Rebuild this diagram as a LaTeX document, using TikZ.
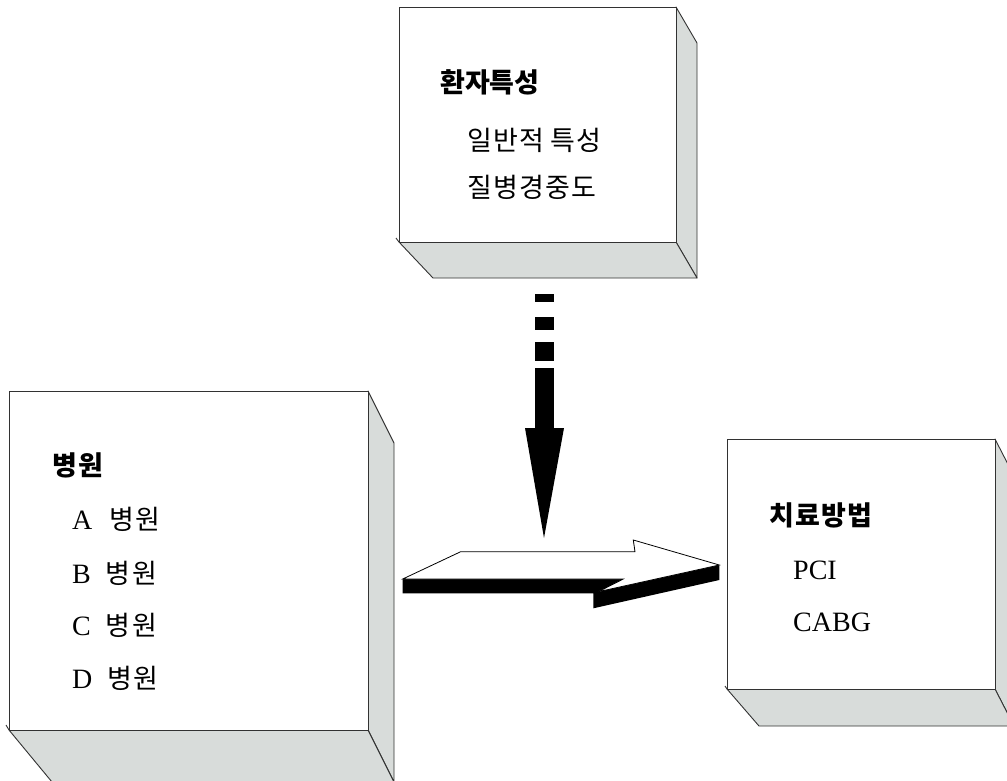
\documentclass[tikz,border=0pt]{standalone}
\usepackage{fontspec}
\setmainfont{Liberation Serif}
\newfontfamily\kr{Noto Sans CJK KR}
\newfontfamily\krsp[LetterSpace=5]{Noto Sans CJK KR}
\definecolor{sidegray}{RGB}{216,220,218}
\definecolor{edgegray}{RGB}{50,50,50}
\tikzset{
  face/.style={draw=edgegray, line width=0.9pt, line join=round},
  front/.style={face, fill=white},
  side/.style={face, fill=sidegray},
  head/.style={anchor=west, inner sep=0pt, font=\fontsize{27}{30}\selectfont\kr\bfseries},
  headsp/.style={anchor=west, inner sep=0pt, font=\fontsize{27}{30}\selectfont\krsp\bfseries},
  item/.style={anchor=west, inner sep=0pt, font=\fontsize{28}{30}\selectfont},
  blk/.style={fill=black, draw=none}
}
\newcommand{\krt}[1]{{\fontsize{27}{30}\selectfont\krsp #1}}
\begin{document}
\begin{tikzpicture}[x=1pt,y=-1pt]
\useasboundingbox (0,0) rectangle (1007,780);
% top box
\draw[side] (676,7) -- (697,43) -- (697,278) -- (676,242) -- cycle;
\draw[side] (399,242) -- (433,278) -- (697,278) -- (676,242) -- cycle;
\draw[face] (396,238) -- (399,242);
\draw[front] (399,7) rectangle (676,242);
\node[head] (pt) at (440,82) {환자특성};
\node[item] (pt1) at (467,140) {\krt{일반적\hspace{6pt}특성}};
\node[item] (pt2) at (467,187) {\krt{질병경중도}};
% left box
\draw[side] (368,391) -- (394,443) -- (394,782) -- (368,730) -- cycle;
\draw[side] (9,730) -- (52,782) -- (394,782) -- (368,730) -- cycle;
\draw[face] (6,725) -- (9,730);
\draw[front] (9,391) rectangle (368,730);
\node[headsp] (hp) at (52,465) {병원};
\node[item] (ha) at (72,519) {A\hspace{17pt}\krt{병원}};
\node[item] (hb) at (72,573) {B\hspace{15pt}\krt{병원}};
\node[item] (hc) at (72,625) {C\hspace{15pt}\krt{병원}};
\node[item] (hd) at (72,678) {D\hspace{15pt}\krt{병원}};
% right box
\draw[side] (995,439) -- (1014,476) -- (1014,726) -- (995,689) -- cycle;
\draw[side] (727,689) -- (759,726) -- (1014,726) -- (995,689) -- cycle;
\draw[face] (725,686) -- (727,689);
\draw[front] (727,439) rectangle (995,689);
\node[headsp] (tm) at (769,515) {치료방법};
\node[item] (t1) at (793,570) {PCI};
\node[item] (t2) at (793,622) {CABG};
% vertical dashed block arrow
\fill[blk] (535,294) rectangle (554,302);
\fill[blk] (535,317) rectangle (554,330);
\fill[blk] (535,342) rectangle (554,361);
\fill[blk] (535,368) rectangle (554,428);
\fill[blk] (525,428) -- (564,428) -- (544,538) -- cycle;
% horizontal 3D arrow
\fill[blk] (402.7,579) -- (623.3,579) -- (598.3,591.7) -- (719.3,565) -- (719.3,580)
  -- (593.3,608.3) -- (593.3,593.3) -- (402.7,593.3) -- cycle;
\fill[blk] (633.3,540) -- (635,551.7) -- (645,551.7) -- cycle;
\draw[fill=white, draw=black, line width=0.8pt, line join=miter]
  (402.7,579) -- (460.7,551.7) -- (635,551.7) -- (633.3,540) -- (719.3,565)
  -- (598.3,591.7) -- (623.3,579) -- cycle;
\end{tikzpicture}
\end{document}
